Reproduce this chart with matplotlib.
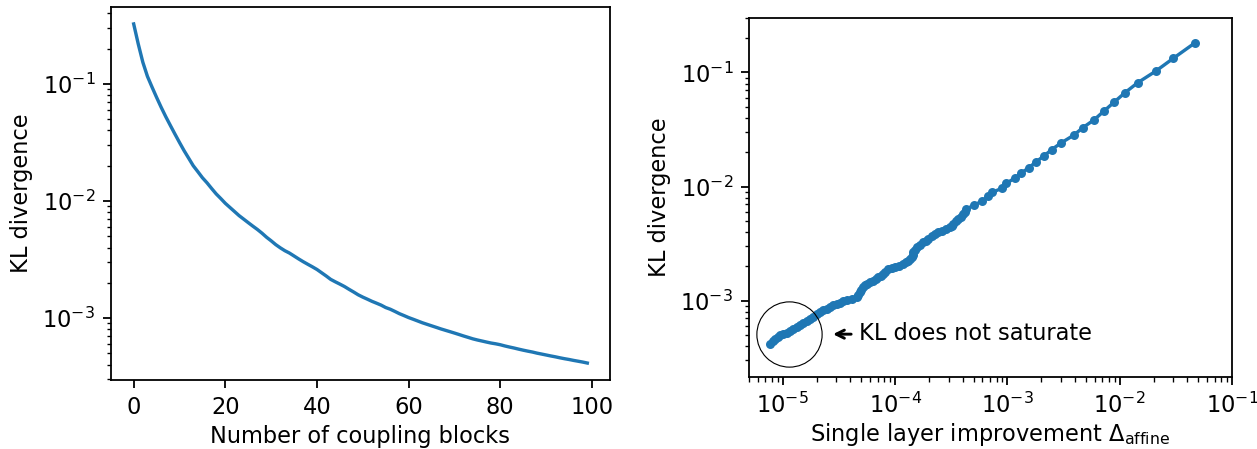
import matplotlib
matplotlib.use('Agg')
import matplotlib.pyplot as plt

# left panel: KL divergence after k coupling blocks
blocks = list(range(100))
kl_blocks = [0.325, 0.219, 0.153, 0.116, 0.0940, 0.0767, 0.0631, 0.0525, 0.0442, 0.0373,
             0.0316, 0.0269, 0.0232, 0.0200, 0.0178, 0.0158, 0.0143, 0.0128, 0.0115, 0.0105,
             0.00955, 0.00881, 0.00813, 0.00750, 0.00700, 0.00653, 0.00610, 0.00571, 0.00531, 0.00490,
             0.00457, 0.00424, 0.00398, 0.00376, 0.00359, 0.00339, 0.00320, 0.00303, 0.00288, 0.00274,
             0.00260, 0.00244, 0.00229, 0.00214, 0.00204, 0.00195, 0.00186, 0.00176, 0.00167, 0.00158,
             0.00151, 0.00145, 0.00139, 0.00134, 0.00129, 0.00123, 0.00119, 0.00114, 0.00109, 0.00105,
             0.00101, 0.000977, 0.000944, 0.000912, 0.000885, 0.000859, 0.000834, 0.000809, 0.000787, 0.000766,
             0.000745, 0.000724, 0.000703, 0.000684, 0.000665, 0.000650, 0.000637, 0.000624, 0.000612, 0.000603,
             0.000592, 0.000578, 0.000566, 0.000555, 0.000543, 0.000532, 0.000522, 0.000513, 0.000502, 0.000493,
             0.000484, 0.000475, 0.000467, 0.000458, 0.000450, 0.000443, 0.000435, 0.000428, 0.000421, 0.000413]

# right panel: single layer improvement vs KL
delta_affine = [7.7e-6, 8.1e-6, 8.53e-6, 9.0e-6, 9.44e-6, 1.01e-5, 1.08e-5, 1.16e-5, 1.24e-5, 1.33e-5,
                1.42e-5, 1.52e-5, 1.63e-5, 1.75e-5, 1.87e-5, 2.0e-5, 2.14e-5, 2.3e-5, 2.46e-5, 2.64e-5,
                2.82e-5, 3.02e-5, 3.23e-5, 3.47e-5, 3.71e-5, 4.1e-5, 4.55e-5, 4.7e-5, 4.87e-5, 5.0e-5,
                5.21e-5, 5.4e-5, 5.58e-5, 6.0e-5, 6.39e-5, 6.7e-5, 7.08e-5, 7.45e-5, 7.85e-5, 8.2e-5,
                8.7e-5, 9.3e-5, 9.98e-5, 1.08e-4, 1.18e-4, 1.25e-4, 1.31e-4, 1.36e-4, 1.41e-4, 1.43e-4,
                1.45e-4, 1.50e-4, 1.56e-4, 1.67e-4, 1.78e-4, 1.88e-4, 1.98e-4, 2.12e-4, 2.26e-4, 2.43e-4,
                2.60e-4, 2.85e-4, 3.08e-4, 3.19e-4, 3.30e-4, 3.48e-4, 3.66e-4, 3.85e-4, 4.05e-4, 4.17e-4,
                4.28e-4, 5.07e-4, 5.97e-4, 6.76e-4, 7.34e-4, 8.95e-4, 9.72e-4, 1.17e-3, 1.32e-3, 1.56e-3,
                1.80e-3, 2.12e-3, 2.48e-3, 2.98e-3, 3.89e-3, 4.71e-3, 5.94e-3, 7.24e-3, 8.95e-3, 1.114e-2,
                1.446e-2, 2.09e-2, 3.0e-2, 4.69e-2]
kl_layers = [4.21e-4, 4.45e-4, 4.66e-4, 4.85e-4, 4.98e-4, 5.1e-4, 5.26e-4, 5.45e-4, 5.62e-4, 5.85e-4,
             6.09e-4, 6.35e-4, 6.60e-4, 6.9e-4, 7.21e-4, 7.6e-4, 7.98e-4, 8.25e-4, 8.53e-4, 8.8e-4,
             9.12e-4, 9.4e-4, 9.62e-4, 9.9e-4, 1.01e-3, 1.04e-3, 1.08e-3, 1.13e-3, 1.19e-3, 1.25e-3,
             1.32e-3, 1.37e-3, 1.41e-3, 1.45e-3, 1.48e-3, 1.54e-3, 1.61e-3, 1.66e-3, 1.72e-3, 1.8e-3,
             1.90e-3, 1.94e-3, 1.97e-3, 2.03e-3, 2.10e-3, 2.17e-3, 2.25e-3, 2.33e-3, 2.41e-3, 2.53e-3,
             2.66e-3, 2.8e-3, 2.94e-3, 3.1e-3, 3.26e-3, 3.37e-3, 3.48e-3, 3.66e-3, 3.85e-3, 3.98e-3,
             4.11e-3, 4.25e-3, 4.41e-3, 4.55e-3, 4.70e-3, 4.95e-3, 5.20e-3, 5.47e-3, 5.75e-3, 6.05e-3,
             6.35e-3, 6.89e-3, 7.5e-3, 8.2e-3, 8.9e-3, 9.7e-3, 1.066e-2, 1.19e-2, 1.31e-2, 1.47e-2,
             1.65e-2, 1.86e-2, 2.11e-2, 2.40e-2, 2.82e-2, 3.29e-2, 3.86e-2, 4.59e-2, 5.51e-2, 6.65e-2,
             8.13e-2, 1.026e-1, 1.33e-1, 1.82e-1]

fig = plt.figure(figsize=(1257 / 162, 449 / 162), dpi=162)

ax1 = fig.add_axes([111 / 1257, 69 / 449, 499 / 1257, 373 / 449])
ax1.plot(blocks, kl_blocks)
ax1.set_yscale('log')
ax1.set_xlabel('Number of coupling blocks', labelpad=2.8)
ax1.set_ylabel('KL divergence')

ax2 = fig.add_axes([749 / 1257, 72 / 449, 483 / 1257, 359 / 449])
ax2.plot(delta_affine, kl_layers, marker='o', ms=4, mew=0)
ax2.set_xscale('log')
ax2.set_yscale('log')
ax2.set_xlim(5e-6, 1e-1)
ax2.set_ylim(2.15e-4, 0.3)
ax2.set_xlabel(r'Single layer improvement $\Delta_{\mathrm{affine}}$', labelpad=1.3)
ax2.set_ylabel('KL divergence')

# circle round the low end and the note
ax2.plot([1.14e-5], [5.15e-4], marker='o', ms=29, mfc='none', mec='black', mew=0.5)
ax2.text(4.78e-5, 4.56e-4, 'KL does not saturate', ha='left', va='baseline')
ax2.annotate('', xy=(2.8e-5, 5.1e-4), xytext=(4.06e-5, 5.1e-4),
             arrowprops=dict(arrowstyle='->', color='black', lw=1.3,
                             shrinkA=0, shrinkB=0, mutation_scale=9))

fig.savefig('out.png', dpi=162)
